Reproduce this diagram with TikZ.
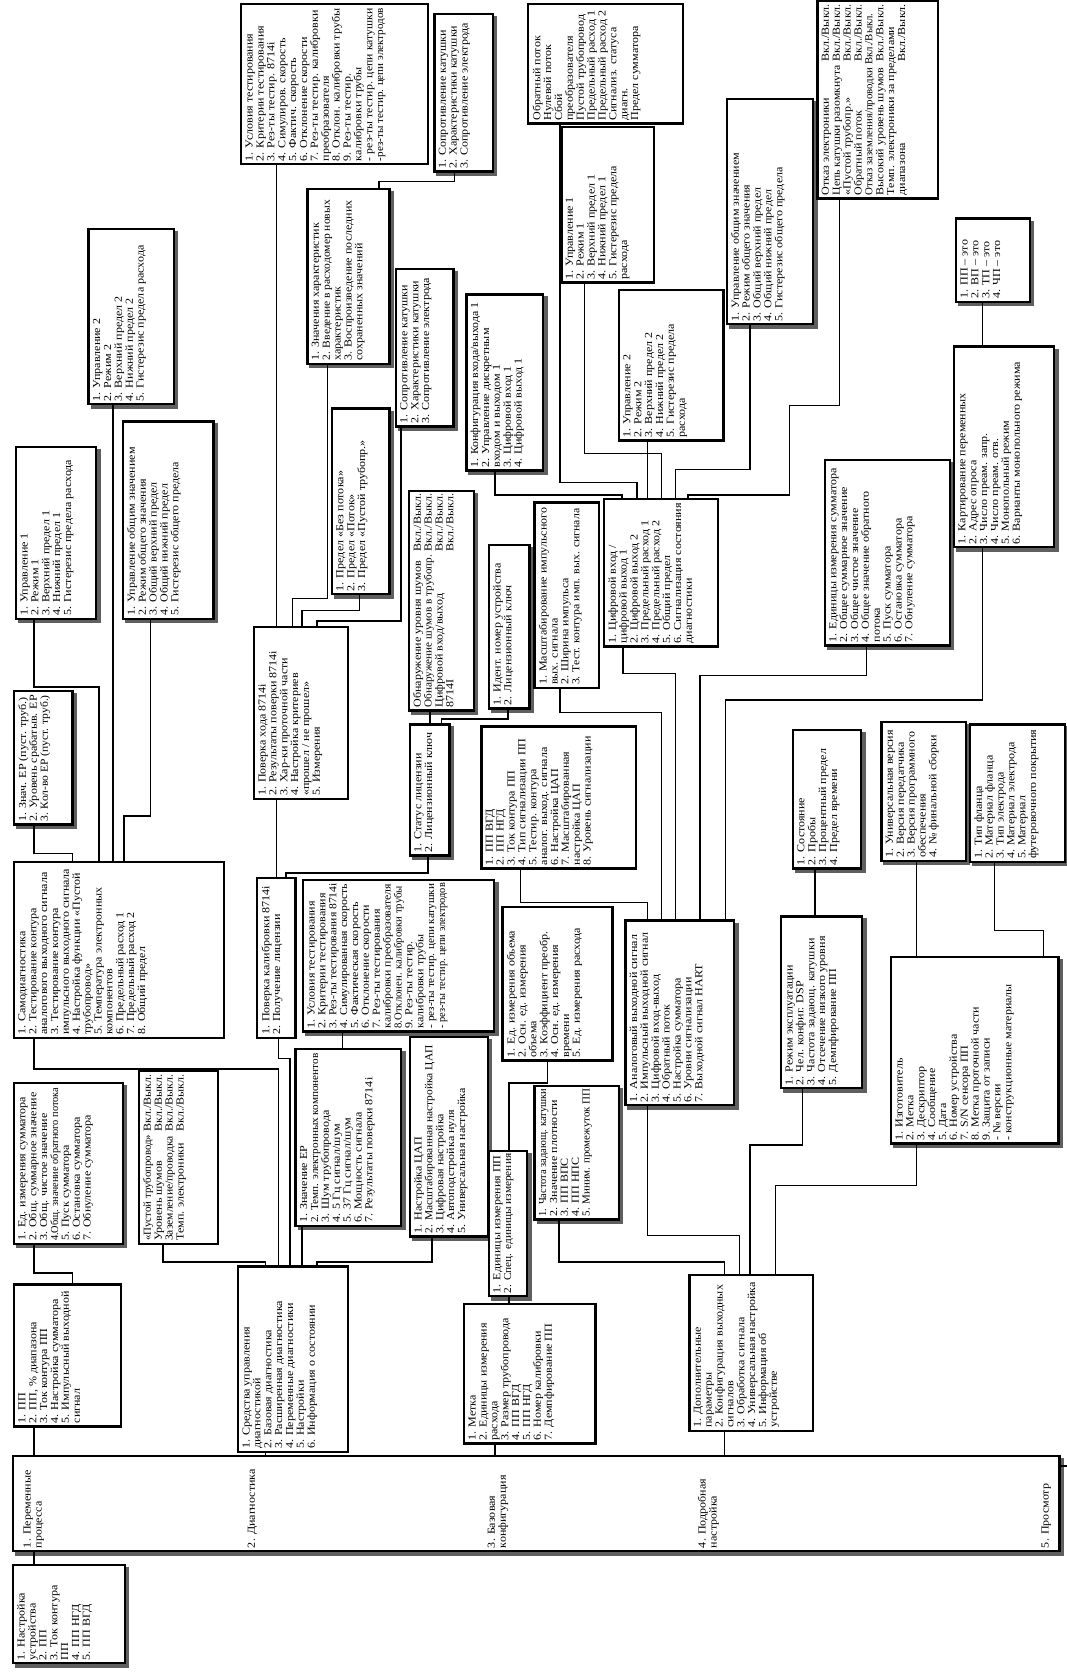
\documentclass[tikz,border=0pt]{standalone}
\usepackage{fontspec}
\setmainfont{Liberation Serif}[FakeStretch=1.12]
\usepackage{xcolor}
\usepackage{tikz}
\usetikzlibrary{backgrounds}
\newlength\px
\setlength\px{0.03cm}
\newlength\txtw
\definecolor{MNUshadow}{RGB}{95,95,95}
\tikzset{bw/.store in=\bw, bh/.store in=\bh}
\tikzstyle{mbox} = [rectangle, draw, line width=1.9pt, fill=white, rotate=90,
                    anchor=north west, inner xsep=2.5pt, inner ysep=3.5pt,
                    font={\fontsize{8.6}{8.7}\selectfont},
                    execute at begin node={\setlength\txtw{\dimexpr\bh\px-5pt\relax}%
                      \begin{minipage}[t][\dimexpr\bw\px-7pt\relax][t]{\txtw}%
                      \begin{minipage}[t]{\dimexpr\txtw+40pt\relax}\raggedright\lineskiplimit=-5pt},
                    execute at end node={\end{minipage}\end{minipage}}]
\tikzstyle{mlab} = [rotate=90, anchor=north west, align=left, inner sep=2.5pt,
                    font={\fontsize{8.6}{8.7}\selectfont}]
\tikzstyle{link} = [line width=1.2pt]

\begin{document}
\begin{tikzpicture}[x=0.03cm, y=-0.03cm]
  \useasboundingbox (0,0) rectangle (1000,1568);

  % root and main menu
  \node[mbox, bw=105, bh=92]  (root)   at (11,1560)  {1. Настройка\\ устройства\\ 2. ПП\\ 3. Ток контура\\ ПП\\ 4. ПП НГД\\ 5. ПП ВГД};
  \node[mbox, bw=981, bh=89]  (main)   at (11,1455)  {\mbox{}};
  \node[mlab] (lvar)  at (19,1454)  {1. Переменные\\ процесса};
  \node[mlab] (ldiag) at (229,1454) {2. Диагностика};
  \node[mlab] (lbase) at (454,1454) {3. Базовая\\ конфигурация};
  \node[mlab] (ldet)  at (651,1454) {4. Подробная\\ настройка};
  \node[mlab] (lview) at (973,1454) {5. Просмотр};

  % level 2
  \node[mbox, bw=100, bh=133] (pp)     at (12,1338)  {1. ПП\\ 2. ПП, \% диапазона\\ 3. Ток контура ПП\\ 4. Настройка сумматора\\ 5. Импульсный выходной\\ сигнал};
  \node[mbox, bw=103, bh=174] (diag)   at (222,1362) {1. Средства управления\\ диагностикой\\ 2. Базовая диагностика\\ 3. Расширенная диагностика\\ 4. Переменные диагностики\\ 5. Настройки\\ 6. Информация о состоянии};
  \node[mbox, bw=123, bh=131] (base)   at (434,1354) {1. Метка\\ 2. Единицы измерения\\ расхода\\ 3. Размер трубопровода\\ 4. ПП ВГД\\ 5. ПП НГД\\ 6. Номер калибровки\\ 7. Демпфирование ПП};
  \node[mbox, bw=116, bh=146] (detail) at (645,1342) {1. Дополнительные\\ параметры\\ 2. Конфигурация выходных\\ сигналов\\ 3. Обработка сигнала\\ 4. Универсальная настройка\\ 5. Информация об\\ устройстве};

  % process variables / diagnostics
  \node[mbox, bw=102, bh=151] (totl)     at (12,1167)  {1. Ед. измерения сумматора\\ 2. Общ. суммарное значение\\ 3. Общ. чистое значение\\ \scalebox{0.86}[1]{4.Общ. значение обратного потока}\\ 5. Пуск сумматора\\ 6. Остановка сумматора\\ 7. Обнуление сумматора};
  \node[mbox, bw=74,  bh=162] (pipe)     at (129,1167) {\makebox[\txtw][s]{\scalebox{0.9}[1]{«Пустой трубопровод»}\hfill Вкл./Выкл.}\\ \makebox[\txtw][s]{Уровень шумов\hfill Вкл./Выкл.}\\ \makebox[\txtw][s]{\scalebox{0.96}[1]{Заземление/проводка}\hfill Вкл./Выкл.}\\ \makebox[\txtw][s]{Темп. электроники\hfill Вкл./Выкл.}};
  \node[mbox, bw=197, bh=165] (selftest) at (12,974)   {1. Самодиагностика\\ 2. Тестирование контура\\ аналогового выходного сигнала\\ 3. Тестирование контура\\ импульсного выходного сигнала\\ 4. Настройка функции «Пустой\\ трубопровод»\\ 5. Температура электронных\\ компонентов\\ 6. Предельный расход 1\\ 7. Предельный расход 2\\ 8. Общий предел};
  \node[mbox, bw=55,  bh=125] (epval)    at (12,774)   {1. Знач. ЕР (пуст. труб.)\\ 2. Уровень срабатыв. ЕР\\ \scalebox{0.96}[1]{3. Кол-во ЕР (пуст. труб.)}};
  \node[mbox, bw=75,  bh=161] (lim1l)    at (14,581)   {1. Управление 1\\ 2. Режим 1\\ 3. Верхний предел 1\\ 4. Нижний предел 1\\ 5. Гистерезис предела расхода};
  \node[mbox, bw=85,  bh=185] (totlimL)  at (114,581)  {1. Управление общим значением\\ 2. Режим общего значения\\ 3. Общий верхний предел\\ 4. Общий нижний предел\\ 5. Гистерезис общего предела};
  \node[mbox, bw=80,  bh=164] (lim2l)    at (82,380)   {1. Управление 2\\ 2. Режим 2\\ 3. Верхний предел 2\\ 4. Нижний предел 2\\ 5. Гистерезис предела расхода};
  \node[mbox, bw=36,  bh=150] (calver)   at (240,974)  {1. Поверка калибровки 8714i\\ 2. Получение лицензии};
  \node[mbox, bw=99,  bh=166] (diagvar)  at (276,1150) {1. Значение ЕР\\ \scalebox{0.93}[1]{2. Темп. электронных компонентов}\\ 3. Шум трубопровода\\ 4. 5 Гц сигнал/шум\\ 5. 37 Гц сигнал/шум\\ 6. Мощность сигнала\\ 7. Результаты поверки 8714i};
  \node[mbox, bw=73,  bh=187] (trims)    at (383,1160) {1. Настройка ЦАП\\ \scalebox{0.95}[1]{2. Масштабированная настройка ЦАП}\\ 3. Цифровая настройка\\ 4. Автоподстройка нуля\\ 5. Универсальная настройка};
  \node[mbox, bw=179, bh=142] (resB)     at (283,968)  {1. Условия тестирования\\ 2. Критерии тестирования\\ \scalebox{0.97}[1]{3. Рез-ты тестирования 8714i}\\ \scalebox{0.98}[1]{4. Симулированная скорость}\\ 5. Фактическая скорость\\ 6. Отклонение скорости\\ 7. Рез-ты тестирования\\ \scalebox{0.98}[1]{калибровки преобразователя}\\ \scalebox{0.89}[1]{8.Отклонен. калибровки трубы}\\ 9. Рез-ты тестир.\\ калибровки трубы\\ \scalebox{0.93}[1]{- рез-ты тестир. цепи катушки}\\ \scalebox{0.86}[1]{- рез-ты тестир. цепи электродов}};
  \node[mbox, bw=88,  bh=161] (runver)   at (237,750)  {1. Поверка хода 8714i\\ 2. Результаты поверки 8714i\\ 3. Хар-ки проточной части\\ 4. Настройка критериев\\ «прошел / не прошел»\\ 5. Измерения};
  \node[mbox, bw=54,  bh=174] (crit)     at (310,558)  {1. Предел «Без потока»\\ 2. Предел «Поток»\\ 3. Предел «Пустой трубопр.»};
  \node[mbox, bw=77,  bh=164] (sig)      at (287,342)  {1. Значения характеристик\\ \scalebox{0.96}[1]{2. Введение в расходомер новых}\\ характеристик\\ 3. Воспроизведение последних\\ сохраненных значений};
  \node[mbox, bw=54,  bh=148] (measM)    at (370,401)  {1. Сопротивление катушки\\ 2. Характеристики катушки\\ 3. Сопротивление электрода};
  \node[mbox, bw=175, bh=150] (resT)     at (225,155)  {1. Условия тестирования\\ 2. Критерии тестирования\\ 3. Рез-ты тестир. 8714i\\ 4. Симулиров. скорость\\ 5. Фактич. скорость\\ 6. Отклонение скорости\\ 7. Рез-ты тестир. калибровки\\ преобразователя\\ 8. Отклон. калибровки трубы\\ 9. Рез-ты тестир.\\ калибровки трубы\\ \scalebox{0.98}[1]{- рез-ты тестир. цепи катушки}\\ \scalebox{0.92}[1]{-рез-ты тестир. цепи электродов}};
  \node[mbox, bw=55,  bh=148] (sigval)   at (406,162)  {1. Сопротивление катушки\\ 2. Характеристики катушки\\ 3. Сопротивление электрода};
  \node[mbox, bw=37,  bh=123] (licst)    at (383,803)  {1. Статус лицензии\\ 2. Лицензионный ключ};
  \node[mbox, bw=61,  bh=206] (licopt)   at (382,667)  {\makebox[\txtw][s]{Обнаружение уровня шумов\hfill Вкл./Выкл.}\\ \makebox[\txtw][s]{\scalebox{0.93}[1]{Обнаружение шумов в трубопр.}\hfill Вкл./Выкл.}\\ \makebox[\txtw][s]{Цифровой вход/выход\hfill Вкл./Выкл.}\\ \makebox[\txtw][s]{8714I\hfill Вкл./Выкл.}};
  \node[mbox, bw=38,  bh=153] (lickey)   at (457,665)  {1. Идент. номер устройства\\ 2. Лицензионный ключ};

  % output configuration
  \node[mbox, bw=145, bh=133] (aout)     at (450,815)  {1. ПП ВГД\\ 2. ПП НГД\\ 3. Ток контура ПП\\ 4. Тип сигнализации ПП\\ 5. Тестир. контура\\ аналог. выход. сигнала\\ 6. Настройка ЦАП\\ 7. Масштабированная\\ настройка ЦАП\\ 8. Уровень сигнализации};
  \node[mbox, bw=60,  bh=174] (pout)     at (500,646)  {1. Масштабирование импульсного\\ вых. сигнала\\ 2. Ширина импульса\\ \scalebox{0.98}[1]{3. Тест. контура имп. вых. сигнала}};
  \node[mbox, bw=107, bh=138] (dio)      at (565,607)  {1. Цифровой вход /\\ цифровой выход 1\\ 2. Цифровой выход 2\\ 3. Предельный расход 1\\ 4. Предельный расход 2\\ 5. Общий предел\\ 6. Сигнализация состояния\\ диагностики};
  \node[mbox, bw=72,  bh=165] (dio1)     at (436,442)  {\scalebox{0.98}[1]{1. Конфигурация входа/выхода 1}\\ 2. Управление дискретным\\ входом и выходом 1\\ 3. Цифровой вход 1\\ 4. Цифровой выход 1};
  \node[mbox, bw=98,  bh=141] (lim2r)    at (579,414)  {1. Управление 2\\ 2. Режим 2\\ 3. Верхний предел 2\\ 4. Нижний предел 2\\ 5. Гистерезис предела\\ расхода};
  \node[mbox, bw=87,  bh=146] (lim1r)    at (525,266)  {1. Управление 1\\ 2. Режим 1\\ 3. Верхний предел 1\\ 4. Нижний предел 1\\ 5. Гистерезис предела\\ расхода};
  \node[mbox, bw=145, bh=112] (do2)      at (494,117)  {Обратный поток\\ Нулевой поток\\ Сбой\\ преобразователя\\ Пустой трубопровод\\ Предельный расход 1\\ Предельный расход 2\\ Сигнализ. статуса\\ диагн.\\ Предел сумматора};
  \node[mbox, bw=81,  bh=211] (totlimR)  at (680,305)  {1. Управление общим значением\\ 2. Режим общего значения\\ 3. Общий верхний предел\\ 4. Общий нижний предел\\ 5. Гистерезис общего предела};
  \node[mbox, bw=113, bh=185] (alert)    at (765,187)  {\makebox[\txtw][s]{Отказ электроники\hfill Вкл./Выкл.}\\ \makebox[\txtw][s]{\scalebox{0.97}[1]{Цепь катушки разомкнута}\hfill Вкл./Выкл.}\\ \makebox[\txtw][s]{«Пустой трубопр.»\hfill Вкл./Выкл.}\\ \makebox[\txtw][s]{Обратный поток\hfill Вкл./Выкл.}\\ \scalebox{0.9}[1]{Отказ заземления/проводки Вкл./Выкл.}\\ \makebox[\txtw][s]{Высокий уровень шумов\hfill Вкл./Выкл.}\\ Темп. электроники за пределами\\ \makebox[\txtw][s]{диапазона\hfill Вкл./Выкл.}};
  \node[mbox, bw=69,  bh=78]  (pvis)     at (895,284)  {1. ПП – это\\ 2. ВП – это\\ 3. ТП – это\\ 4. ЧП – это};
  \node[mbox, bw=94,  bh=188] (hart)     at (893,514)  {1. Картирование переменных\\ 2. Адрес опроса\\ 3. Число преам. запр.\\ 4. Число преам. отв.\\ 5. Монопольный режим\\ 6. Варианты монопольного режима};
  \node[mbox, bw=117, bh=174] (totR)     at (772,606)  {1. Единицы измерения сумматора\\ 2. Общее суммарное значение\\ 3. Общее чистое значение\\ 4. Общее значение обратного\\ потока\\ 5. Пуск сумматора\\ 6. Остановка сумматора\\ 7. Обнуление сумматора};
  \node[mbox, bw=102, bh=173] (outcfg)   at (585,1037) {1. Аналоговый выходной сигнал\\ 2. Импульсный выходной сигнал\\ 3. Цифровой вход-выход\\ 4. Обратный поток\\ 5. Настройка сумматора\\ 6. Уровни сигнализации\\ 7. Выходной сигнал HART};

  % signal processing / device info
  \node[mbox, bw=64,  bh=130] (dsp)      at (742,815)  {1. Состояние\\ 2. Пробы\\ 3. Процентный предел\\ 4. Предел времени};
  \node[mbox, bw=79,  bh=130] (rev)      at (825,808)  {1. Универсальная версия\\ 2. Версия передатчика\\ 3. Версия программного\\ обеспечения\\ 4. № финальной сборки};
  \node[mbox, bw=89,  bh=129] (mat)      at (908,809)  {1. Тип фланца\\ 2. Материал фланца\\ 3. Тип электрода\\ 4. Материал электрода\\ 5. Материал\\ футеровочного покрытия};
  \node[mbox, bw=76,  bh=161] (sproc)    at (731,1021) {1. Режим эксплуатации\\ 2. Чел. конфиг. DSP\\ 3. Частота задающ. катушки\\ 4. Отсечение низкого уровня\\ 5. Демпфирование ПП};
  \node[mbox, bw=157, bh=175] (info)     at (834,1073) {1. Изготовитель\\ 2. Метка\\ 3. Дескриптор\\ 4. Сообщение\\ 5. Дата\\ 6. Номер устройства\\ 7. S/N сенсора ПП\\ 8. Метка проточной части\\ 9. Защита от записи\\ - № версии\\ - конструкционные материалы};

  % base configuration
  \node[mbox, bw=103, bh=144] (spec)     at (470,995)  {1. Ед. измерения объема\\ 2. Осн. ед. измерения\\ объема\\ 3. Коэффициент преобр.\\ 4. Осн. ед. измерения\\ времени\\ 5. Ед. измерения расхода};
  \node[mbox, bw=79,  bh=125] (addp)     at (500,1144) {\scalebox{0.87}[1]{1. Частота задающ. катушки}\\ 2. Значение плотности\\ 3. ПП ВПС\\ 4. ПП НПС\\ \scalebox{0.91}[1]{5. Миним. промежуток ПП}};
  \node[mbox, bw=36,  bh=136] (units)    at (457,1216) {1. Единицы измерения ПП\\ \scalebox{0.94}[1]{2. Спец. единицы измерения}};

  % shadows
  \begin{scope}[on background layer]
    \foreach \n in {root,main,totl,epval,lim1l,totlimL,lim2l,diagvar,trims,resB,crit,sig,measM,
                    sigval,licst,licopt,lickey,dio1,totlimR,pvis,hart,totR,dsp,rev,mat,sproc,
                    info,outcfg,addp,units}
      \fill[MNUshadow] ([shift={(3,3)}]\n.north west) rectangle ([shift={(3,3)}]\n.south east);
  \end{scope}

  % links: main menu
  \draw[link] (root.east -| 32,0) -- (main.west -| 32,0);
  \draw[link] (pp.west -| 32,0) -- (main.east -| 32,0);
  \draw[link] (diag.west -| 249,0) -- (main.east -| 249,0);
  \draw[link] (base.west -| 464,0) -- (main.east -| 464,0);
  \draw[link] (detail.west -| 679,0) -- (main.east -| 679,0);
  \coordinate (viewend) at (1000,1374);
  \draw[link] (main.south |- viewend) -- (viewend);

  % links: process variables, diagnostics
  \draw[link] (totl.west -| 32,0) |- (68,1193) -- (pp.east -| 68,0);
  \draw[link] (pipe.west -| 153,0) |- (249,1183) -- (diag.east -| 249,0);
  \draw[link] (selftest.west -| 32,0) |- (261,1002) -- (diag.east -| 261,0);
  \draw[link] (calver.west -| 261,0) |- (272,992) -- (diag.east -| 272,0);
  \draw[link] (diagvar.west -| 283,0) -- (diag.east -| 283,0);
  \draw[link] (trims.west -| 405,0) |- (297,1183) -- (diag.east -| 297,0);
  \draw[link] (epval.west -| 32,0) |- (68,800) -- (selftest.east -| 68,0);
  \draw[link] (lim1l.west -| 32,0) |- (93,644) -- (selftest.east -| 93,0);
  \draw[link] (lim2l.west -| 106,0) -- (selftest.east -| 106,0);
  \draw[link] (totlimL.west -| 141,0) |- (116,765) -- (selftest.east -| 116,0);
  \draw[link] (runver.west -| 259,0) -- (calver.east -| 259,0);
  \draw[link] (licst.west -| 401,0) |- (268,818) -- (calver.east -| 268,0);
  \draw[link] (resT.west -| 259,0) -- (runver.east -| 259,0);
  \draw[link] (sig.west -| 307,0) |- (274,561) -- (runver.east -| 274,0);
  \draw[link] (crit.west -| 337,0) |- (283,572) -- (runver.east -| 283,0);
  \draw[link] (measM.west -| 376,0) |- (297,582) -- (runver.east -| 297,0);
  \draw[link] (sigval.west -| 426,0) |- (355,170) -- (sig.east -| 355,0);
  \draw[link] (resB.west -| 321,0) -- (diagvar.east -| 321,0);
  \draw[link] (licopt.west -| 403,0) -- (licst.east -| 403,0);
  \draw[link] (lickey.west -| 476,0) |- (414,674) -- (licst.east -| 414,0);

  % links: base configuration
  \draw[link] (units.west -| 477,0) -- (base.east -| 477,0);
  \draw[link] (spec.west -| 513,0) |- (477,1015) -- (units.east -| 477,0);

  % links: detailed setup
  \draw[link] (addp.west -| 524,0) |- (679,1183) -- (detail.east -| 679,0);
  \draw[link] (outcfg.west -| 607,0) |- (693,1158) -- (detail.east -| 693,0);
  \draw[link] (sproc.west -| 752,0) |- (703,1073) -- (detail.east -| 703,0);
  \draw[link] (info.west -| 859,0) |- (727,1111) -- (detail.east -| 727,0);
  \draw[link] (dsp.west -| 764,0) -- (sproc.east -| 764,0);
  \draw[link] (rev.west -| 859,0) -- (info.east -| 859,0);
  \draw[link] (mat.west -| 932,0) |- (978,872) -- (info.east -| 978,0);
  \draw[link] (aout.west -| 488,0) |- (607,846) -- (outcfg.east -| 607,0);
  \draw[link] (pout.west -| 525,0) |- (620,668) -- (outcfg.east -| 620,0);
  \draw[link] (dio.west -| 584,0) |- (633,631) -- (outcfg.east -| 633,0);
  \draw[link] (totR.west -| 812,0) |- (656,633) -- (outcfg.east -| 656,0);
  \draw[link] (hart.west -| 921,0) |- (680,656) -- (outcfg.east -| 680,0);
  \draw[link] (pvis.west -| 921,0) -- (hart.east -| 921,0);
  \draw[link] (dio1.west -| 464,0) |- (583,464) -- (dio.east -| 583,0);
  \draw[link] (do2.west -| 525,0) |- (597,452) -- (dio.east -| 597,0);
  \draw[link] (lim2r.west -| 607,0) -- (dio.east -| 607,0);
  \draw[link] (lim1r.west -| 548,0) |- (620,425) -- (dio.east -| 620,0);
  \draw[link] (totlimR.west -| 703,0) |- (633,440) -- (dio.east -| 633,0);
  \draw[link] (alert.west -| 787,0) |- (740,380) |- (645,464) -- (dio.east -| 645,0);
\end{tikzpicture}
\end{document}
